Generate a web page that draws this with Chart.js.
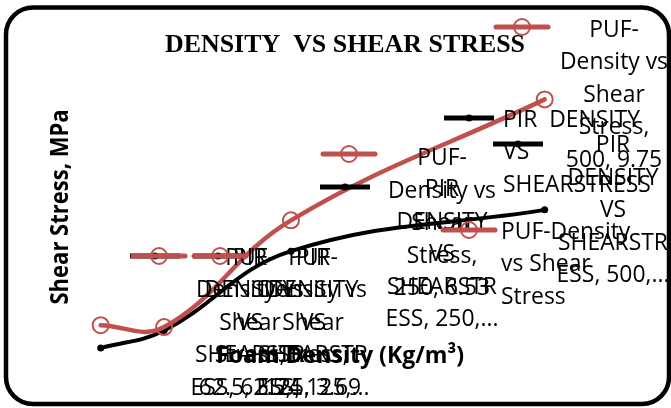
<!DOCTYPE html>
<html>
<head>
<meta charset="utf-8">
<script src="https://cdn.jsdelivr.net/npm/chart.js@4.4.1/dist/chart.umd.min.js"></script>
<style>
body{margin:0;background:#fff;}
#chart{display:block;}
</style>
</head>
<body>
<canvas id="chart" width="671" height="408"></canvas>
<script>
// foam density (Kg/m3) and shear stress (MPa)
var densities = [62.5, 125, 250, 500];
var pufStress = [3.74, 3.69, 6.53, 9.75];
var pirStress = [3.13, 3.6, 5.71, 6.81];
var pufName = 'PUF-Density vs Shear Stress';
var pirName = 'PIR  DENSITY VS SHEARSTRESS';

var red = '#C0504D';
var lineGap = 32.5;

function points(ys){
  return densities.map(function(d,i){ return {x:d, y:ys[i]}; });
}

// data label text, wrapped the way excel did it
function pufLines(i){ return ['PUF-','Density vs','Shear','Stress,', densities[i]+', '+pufStress[i]]; }
function pirLines(i){ return ['PIR','DENSITY','VS','SHEARSTR','ESS, '+densities[i]+',...']; }

// where the (dragged) labels ended up
var labelSpots = [
  {s:'puf', i:3, keyX:522, keyY:27,  textX:614, baseY:36.5},
  {s:'pir', i:3, keyX:518, keyY:144, textX:613, baseY:152},
  {s:'puf', i:2, keyX:349, keyY:154, textX:442, baseY:165},
  {s:'pir', i:2, keyX:345, keyY:187, textX:442, baseY:196},
  {s:'pir', i:0, keyX:155, keyY:256, textX:250, baseY:264.5},
  {s:'pir', i:1, keyX:218, keyY:256, textX:313, baseY:264.5},
  {s:'puf', i:0, keyX:159, keyY:256, textX:250, baseY:264.5},
  {s:'puf', i:1, keyX:220, keyY:256, textX:313, baseY:264.5}
];
var legendSpots = [
  {s:'pir', keyX:469, keyY:118, textX:503, baseY:126.5, lines:['PIR  DENSITY','VS','SHEARSTRESS']},
  {s:'puf', keyX:469, keyY:230, textX:501, baseY:238.5, lines:['PUF-Density','vs Shear','Stress']}
];

function putText(ctx, s, x, y, sx, align){
  ctx.save();
  ctx.translate(x,y);
  ctx.scale(sx,1);
  ctx.textAlign = align;
  ctx.fillText(s,0,0);
  ctx.restore();
}

function fitScale(ctx, s, width){
  return width / ctx.measureText(s).width;
}

function drawKey(ctx, s, cx, cy){
  ctx.save();
  if(s==='puf'){
    ctx.strokeStyle = red;
    ctx.lineWidth = 5;
    ctx.lineCap = 'round';
    ctx.beginPath(); ctx.moveTo(cx-26,cy); ctx.lineTo(cx+26,cy); ctx.stroke();
    ctx.lineWidth = 2;
    ctx.beginPath(); ctx.arc(cx,cy,8,0,Math.PI*2); ctx.stroke();
  } else {
    ctx.strokeStyle = '#000';
    ctx.fillStyle = '#000';
    ctx.lineWidth = 5;
    ctx.beginPath(); ctx.moveTo(cx-25,cy); ctx.lineTo(cx+25,cy); ctx.stroke();
    ctx.beginPath(); ctx.arc(cx,cy,3.5,0,Math.PI*2); ctx.fill();
  }
  ctx.restore();
}

function roundBox(ctx, x, y, w, h, r){
  ctx.beginPath();
  ctx.moveTo(x+r,y);
  ctx.arcTo(x+w,y,x+w,y+h,r);
  ctx.arcTo(x+w,y+h,x,y+h,r);
  ctx.arcTo(x,y+h,x,y,r);
  ctx.arcTo(x,y,x+w,y,r);
  ctx.closePath();
}

var framePlugin = {
  id:'frame',
  beforeDraw: function(chart){
    var ctx = chart.ctx;
    ctx.save();
    ctx.fillStyle = '#fff';
    ctx.fillRect(0,0,chart.width,chart.height);
    ctx.strokeStyle = '#000';
    ctx.lineWidth = 4.5;
    roundBox(ctx, 6, 7.5, 663, 396.5, 27);
    ctx.stroke();
    ctx.restore();
  }
};

var textPlugin = {
  id:'texts',
  afterDraw: function(chart){
    var ctx = chart.ctx;
    ctx.save();
    ctx.fillStyle = '#000';
    ctx.textBaseline = 'alphabetic';

    // chart title
    ctx.font = 'bold 26px "Liberation Serif"';
    var t = 'DENSITY  VS SHEAR STRESS';
    putText(ctx, t, 345, 52, fitScale(ctx,t,360), 'center');

    // axis titles
    ctx.font = 'bold 24px "Open Sans"';
    var xt = 'Foam Density (Kg/m\u00B3)';
    putText(ctx, xt, 340, 363, fitScale(ctx,xt,248), 'center');

    ctx.font = 'bold 25px "Open Sans"';
    var yt = 'Shear Stress, MPa';
    var ys = fitScale(ctx,yt,195);
    ctx.save();
    ctx.translate(68,207);
    ctx.rotate(-Math.PI/2);
    putText(ctx, yt, 0, 0, ys, 'center');
    ctx.restore();

    // data labels with legend keys
    ctx.font = '23px "Open Sans"';
    var sx = fitScale(ctx,'Density vs',108);
    labelSpots.forEach(function(l){
      drawKey(ctx, l.s, l.keyX, l.keyY);
      var lines = l.s==='puf' ? pufLines(l.i) : pirLines(l.i);
      lines.forEach(function(line,k){
        putText(ctx, line, l.textX, l.baseY + k*lineGap, sx, 'center');
      });
    });

    // legend, sitting inside the plot
    legendSpots.forEach(function(l){
      drawKey(ctx, l.s, l.keyX, l.keyY);
      l.lines.forEach(function(line,k){
        putText(ctx, line, l.textX, l.baseY + k*lineGap, sx, 'left');
      });
    });
    ctx.restore();
  }
};

var ctx = document.getElementById('chart').getContext('2d');
var chart = new Chart(ctx, {
  type:'scatter',
  data:{
    datasets:[{
      label:pufName,
      data:points(pufStress),
      showLine:true,
      borderColor:red,
      borderWidth:4.5,
      borderCapStyle:'round',
      tension:0.4,
      pointRadius:8,
      pointBorderWidth:2,
      pointBorderColor:red,
      pointBackgroundColor:'rgba(0,0,0,0)',
      clip:false
    },{
      label:pirName,
      data:points(pirStress),
      showLine:true,
      borderColor:'#000',
      borderWidth:4,
      borderCapStyle:'round',
      tension:0.4,
      pointRadius:3.5,
      pointBorderWidth:0,
      pointBackgroundColor:'#000',
      clip:false
    }]
  },
  options:{
    responsive:false,
    animation:false,
    devicePixelRatio:1,
    layout:{padding:{left:88, right:106, top:90, bottom:55}},
    scales:{
      x:{type:'linear', min:50, max:520, display:false},
      y:{min:3, max:10, display:false}
    },
    plugins:{
      legend:{display:false},
      tooltip:{enabled:false},
      title:{display:false}
    }
  },
  plugins:[framePlugin, textPlugin]
});
</script>
</body>
</html>
